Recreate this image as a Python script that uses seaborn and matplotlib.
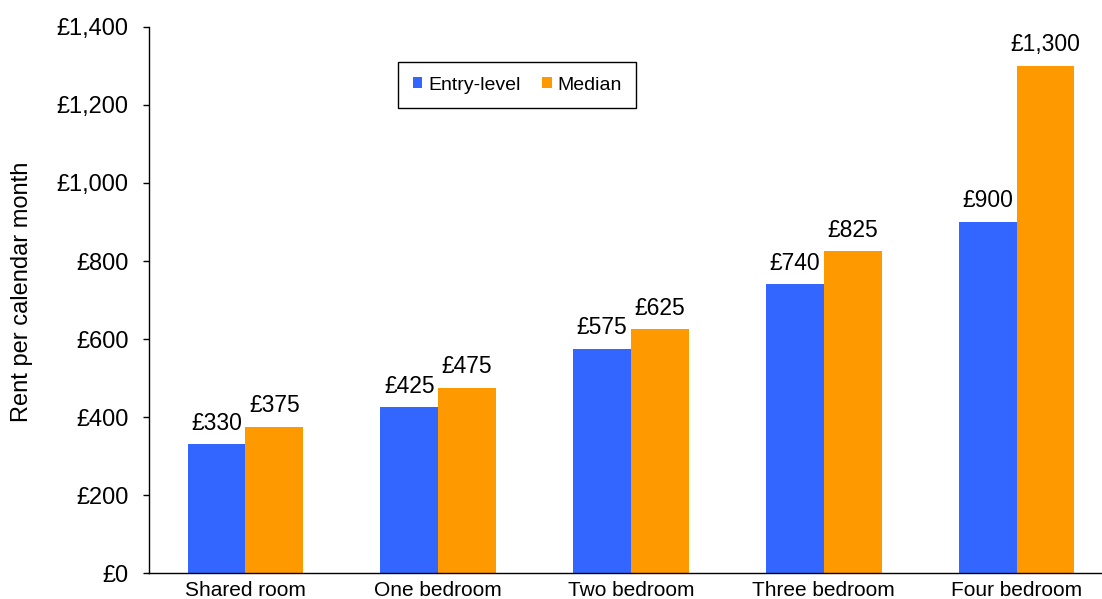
import numpy as np
import pandas as pd
import matplotlib.pyplot as plt
import seaborn as sns

# Data
categories = ['Shared room', 'One bedroom', 'Two bedroom', 'Three bedroom', 'Four bedroom']
entry_level = [330, 425, 575, 740, 900]
median = [375, 475, 625, 825, 1300]

data = pd.DataFrame({
    'Type': categories * 2,
    'Rent': entry_level + median,
    'Level': ['Entry-level'] * len(categories) + ['Median'] * len(categories),
})

sns.set_style('white')
plt.rcParams['font.family'] = ['Liberation Sans', 'DejaVu Sans']
plt.rcParams['text.color'] = 'black'
plt.rcParams['axes.labelcolor'] = 'black'
plt.rcParams['xtick.color'] = 'black'
plt.rcParams['ytick.color'] = 'black'

W, H = 1102, 599
fig = plt.figure(figsize=(W / 100, H / 100), dpi=100)
ax = fig.add_axes([149 / W, 26 / H, (1113 - 149) / W, 546 / H])

sns.barplot(data=data, x='Type', y='Rent', hue='Level', ax=ax,
            palette=['#3366FF', '#FF9900'], saturation=1, width=0.6,
            gap=0, linewidth=0, errorbar=None)

# Value labels
for cont in ax.containers:
    ax.bar_label(cont, labels=[f'£{v:,.0f}' for v in cont.datavalues],
                 padding=7, fontsize=16.5, color='black')

# Axes
ax.set_ylim(0, 1400)
ax.set_xlim(-0.5, len(categories) - 0.5)
ax.set_yticks(np.arange(0, 1401, 200))
ax.set_yticklabels([f'£{v:,}' for v in range(0, 1401, 200)], fontsize=17)
ax.set_xticks(range(len(categories)))
ax.set_xticklabels(categories, fontsize=15)
ax.set_xticks(np.arange(-0.5, len(categories), 1), minor=True)
ax.tick_params(axis='x', which='major', length=0, pad=6)
ax.tick_params(axis='x', which='minor', length=4, width=1, direction='out')
ax.tick_params(axis='y', length=4, width=1, direction='out', pad=10.5, left=True)
ax.set_xlabel('')
ax.set_ylabel('Rent per calendar month', fontsize=17)
ax.yaxis.label.set_verticalalignment('center')
ax.yaxis.set_label_coords((22 - 149) / 964, (599 - 292 - 26) / 546)

for s in ['top', 'right']:
    ax.spines[s].set_visible(False)
for s in ['left', 'bottom']:
    ax.spines[s].set_color('black')
    ax.spines[s].set_linewidth(1)

# Legend
leg = ax.legend(loc='upper left', bbox_to_anchor=(398 / W, 1 - 62 / H),
                bbox_transform=fig.transFigure, ncol=2, fontsize=14,
                handlelength=0.5, handleheight=0.5, handletextpad=0.3,
                columnspacing=1.1, borderpad=0.75, borderaxespad=0,
                frameon=True, fancybox=False,
                framealpha=1, edgecolor='black')
leg.get_frame().set_linewidth(1)

fig.savefig('out.png', dpi=100)
